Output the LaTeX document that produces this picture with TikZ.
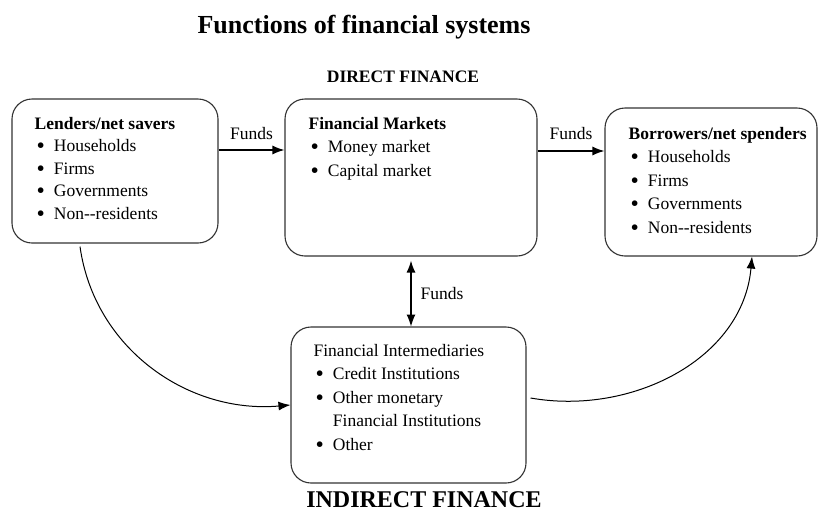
\documentclass[tikz,border=0pt]{standalone}
\usepackage{fontspec}
\setmainfont{Liberation Serif}
\usetikzlibrary{arrows.meta}
\newcommand{\itemdot}{\raisebox{-2pt}{\scalebox{1.35}{\textbullet}}}

\begin{document}
\begin{tikzpicture}[x=1pt, y=-1pt,
		main/.style = {draw=black!80, line width=1.1pt, rounded corners=20pt, inner sep=0pt},
		list/.style = {anchor=base west, inner sep=0pt, font=\fontsize{17.5}{23.5}\selectfont},
		lbl/.style = {inner sep=0pt, font=\fontsize{17.5}{21}\selectfont},
		arr/.style = {line width=1.3pt, -{Latex[length=12pt,width=9pt]}},
		arrboth/.style = {line width=1.3pt, {Latex[length=12pt,width=9pt]}-{Latex[length=12pt,width=9pt]}}]
	\useasboundingbox (0,0) rectangle (819,512);
	\node[anchor=base, font=\bfseries\fontsize{26}{30}\selectfont] (title) at (364,33) {Functions of financial systems};
	\node[anchor=base, font=\bfseries\fontsize{17.5}{20}\selectfont] (direct) at (403,82) {DIRECT FINANCE};
	\node[anchor=base, font=\bfseries\fontsize{24}{28}\selectfont] (indirect) at (424,507) {INDIRECT FINANCE};
	\node[main, minimum width=206pt, minimum height=144pt] (lend) at (115,171) {};
	\node[main, minimum width=252pt, minimum height=157pt] (mkt) at (411,177.5) {};
	\node[main, minimum width=212pt, minimum height=148pt] (borr) at (711,182) {};
	\node[main, minimum width=235pt, minimum height=156pt] (inter) at (408.5,405) {};
	\node[list, font=\fontsize{17.5}{22.5}\selectfont] (lendtxt) at ([shift={(23pt,-31pt)}]lend.north west) {\begin{tabular}[t]{@{\hspace{2pt}}c@{\hspace{9pt}}l@{}}
		\multicolumn{2}{@{}l@{}}{\textbf{Lenders/net savers}}\\
		\itemdot & Households\\
		\itemdot & Firms\\
		\itemdot & Governments\\
		\itemdot & Non-{}-residents
	\end{tabular}};
	\node[list] (mkttxt) at ([shift={(24pt,-31pt)}]mkt.north west) {\begin{tabular}[t]{@{\hspace{2pt}}c@{\hspace{9pt}}l@{}}
		\multicolumn{2}{@{}l@{}}{\textbf{Financial Markets}}\\
		\itemdot & Money market\\
		\itemdot & Capital market
	\end{tabular}};
	\node[list] (borrtxt) at ([shift={(24pt,-32pt)}]borr.north west) {\begin{tabular}[t]{@{\hspace{2pt}}c@{\hspace{9pt}}l@{}}
		\multicolumn{2}{@{}l@{}}{\textbf{Borrowers/net spenders}}\\
		\itemdot & Households\\
		\itemdot & Firms\\
		\itemdot & Governments\\
		\itemdot & Non-{}-residents
	\end{tabular}};
	\node[list] (intertxt) at ([shift={(23pt,-30pt)}]inter.north west) {\begin{tabular}[t]{@{\hspace{2pt}}c@{\hspace{9pt}}l@{}}
		\multicolumn{2}{@{}l@{}}{Financial Intermediaries}\\
		\itemdot & Credit Institutions\\
		\itemdot & Other monetary\\
		         & Financial Institutions\\
		\itemdot & Other
	\end{tabular}};
	\draw[arr] ([yshift=21pt]lend.east) -- ([yshift=21pt]lend.east -| mkt.west) node[lbl, midway, above=10pt] {Funds};
	\draw[arr] ([yshift=26.5pt]mkt.east) -- ([yshift=26.5pt]mkt.east -| borr.west) node[lbl, midway, above=11pt] {Funds};
	\draw[arrboth] ([yshift=-4pt]mkt.south) -- ([yshift=-70pt]mkt.south) node[lbl, midway, right=9pt] {Funds};
	\draw[arr, line width=1pt] ([xshift=-35pt,yshift=-3pt]lend.south) to[out=-82, in=185] (inter.west);
	\draw[arr, line width=1pt] ([xshift=4pt,yshift=7pt]inter.east) to[out=-10, in=-95] ([xshift=41pt]borr.south);
\end{tikzpicture}
\end{document}
